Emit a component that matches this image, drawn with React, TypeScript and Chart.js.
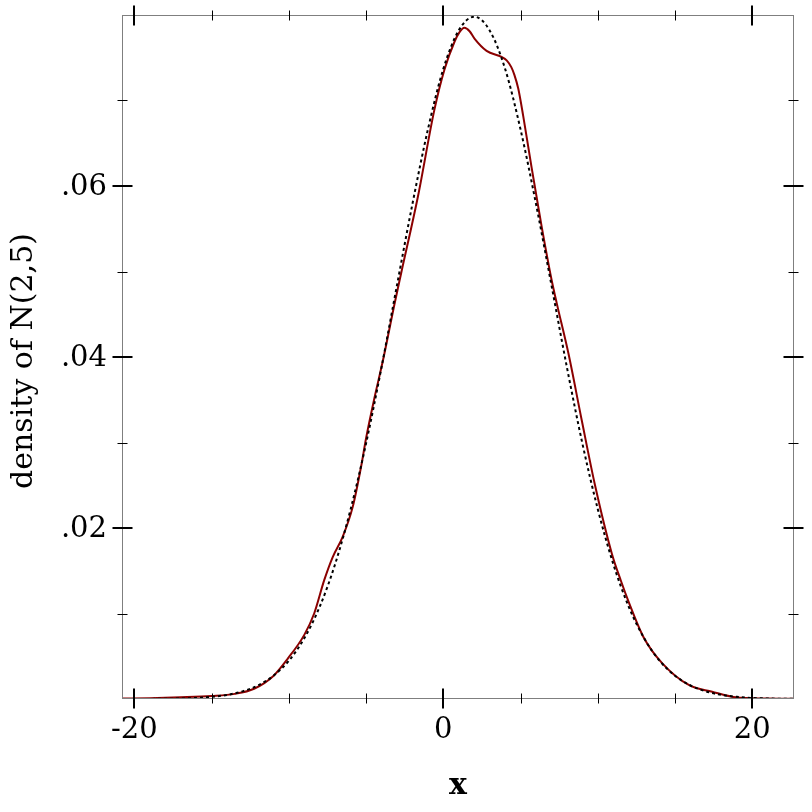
import React, { useEffect, useRef } from "react";
import { Chart, registerables } from "chart.js";

Chart.register(...registerables);

// Red curve: kernel density estimate (x, density)
const kdeX = [-20.8, -19, -17, -15, -13.5, -12.25, -11, -10.08, -9.0, -8.36, -7.71, -7.16, -6.51, -5.86, -5.32, -5.0, -4.46, -3.92, -3.16, -2.73, -1.64, -0.58, 0.07, 0.73, 1.05, 1.36, 1.7, 2.03, 2.8, 3.77, 4.1, 4.4, 4.6, 4.85, 5.17, 5.71, 6.36, 7.01, 7.34, 8.1, 8.96, 9.82, 10.91, 11.5, 11.99, 12.97, 14.16, 15.89, 17.4, 18.9, 21, 22.7];
const kdeY = [0.00005, 0.0001, 0.0002, 0.00035, 0.0006, 0.0012, 0.0027, 0.0047, 0.0075, 0.0100, 0.0139, 0.0166, 0.0190, 0.0225, 0.0272, 0.0305, 0.0352, 0.0395, 0.0462, 0.0498, 0.0588, 0.0689, 0.0736, 0.0769, 0.0780, 0.0785, 0.0781, 0.0772, 0.0758, 0.0751, 0.0747, 0.0739, 0.0730, 0.0714, 0.0682, 0.0622, 0.0553, 0.0490, 0.0463, 0.0404, 0.0326, 0.0250, 0.0170, 0.0138, 0.0114, 0.0072, 0.0042, 0.00164, 0.00085, 0.0002, 0.00005, 0.00002];

// Dotted curve: density of N(2,5)
const pdfX = [-20.8, -20, -19, -18, -17, -16, -15, -14, -13, -12, -11, -10, -9, -8, -7, -6, -5, -4, -3, -2, -1, 0, 1, 2, 3, 4, 5, 6, 7, 8, 9, 10, 11, 12, 13, 14, 15, 16, 17, 18, 19, 20, 21, 22, 22.7];
const pdfY = [0.000003, 0.000005, 0.000012, 0.000027, 0.000058, 0.00012, 0.00025, 0.00048, 0.00089, 0.00158, 0.00272, 0.00448, 0.0071, 0.0108, 0.0158, 0.0222, 0.0299, 0.0388, 0.0484, 0.0579, 0.0666, 0.0737, 0.0782, 0.0798, 0.0782, 0.0737, 0.0666, 0.0579, 0.0484, 0.0388, 0.0299, 0.0222, 0.0158, 0.0108, 0.0071, 0.00448, 0.00272, 0.00158, 0.00089, 0.00048, 0.00025, 0.00012, 0.000058, 0.000027, 0.000015];

const xMajorTicks = [-20, 0, 20];
const xMajorLabels = ["-20", "0", "20"];
const xMinorTicks = [-15, -10, -5, 5, 10, 15];
const yMajorTicks = [0.02, 0.04, 0.06];
const yMajorLabels = [".02", ".04", ".06"];
const yMinorTicks = [0.01, 0.03, 0.05, 0.07];

const xTitle = "x";
const yTitle = "density of N(2,5)";

const FONT = "DejaVu Serif";
const FONT_SIZE = 29;
const TITLE_SIZE = 30;

const axesPlugin = {
  id: "racketAxes",
  afterDraw(chart: any) {
    const ctx = chart.ctx;
    const { left, right, top, bottom } = chart.chartArea;
    const xs = chart.scales.x;
    const ys = chart.scales.y;
    ctx.save();
    // frame
    ctx.strokeStyle = "#7f7f7f";
    ctx.lineWidth = 1;
    ctx.beginPath();
    ctx.moveTo(left + 0.5, top);
    ctx.lineTo(left + 0.5, bottom);
    ctx.moveTo(right - 0.5, top);
    ctx.lineTo(right - 0.5, bottom);
    ctx.moveTo(left, top + 0.5);
    ctx.lineTo(right, top + 0.5);
    ctx.moveTo(left, bottom - 0.5);
    ctx.lineTo(right, bottom - 0.5);
    ctx.stroke();

    ctx.strokeStyle = "#000";
    const vtick = (px: number, half: number, w: number) => {
      ctx.lineWidth = w;
      ctx.beginPath();
      ctx.moveTo(px, top + 0.5 - half);
      ctx.lineTo(px, top + 0.5 + half);
      ctx.moveTo(px, bottom - 0.5 - half);
      ctx.lineTo(px, bottom - 0.5 + half);
      ctx.stroke();
    };
    const htick = (py: number, half: number, w: number) => {
      ctx.lineWidth = w;
      ctx.beginPath();
      ctx.moveTo(left + 0.5 - half, py);
      ctx.lineTo(left + 0.5 + half, py);
      ctx.moveTo(right - 0.5 - half, py);
      ctx.lineTo(right - 0.5 + half, py);
      ctx.stroke();
    };
    xMajorTicks.forEach((v) => vtick(Math.round(xs.getPixelForValue(v)), 10, 2));
    xMinorTicks.forEach((v) => vtick(Math.round(xs.getPixelForValue(v)) + 0.5, 5, 1));
    yMajorTicks.forEach((v) => htick(Math.round(ys.getPixelForValue(v)), 10, 2));
    yMinorTicks.forEach((v) => htick(Math.round(ys.getPixelForValue(v)) + 0.5, 5, 1));

    ctx.fillStyle = "#000";
    ctx.font = `${FONT_SIZE}px "${FONT}"`;
    ctx.textAlign = "center";
    ctx.textBaseline = "middle";
    xMajorTicks.forEach((v, i) => {
      ctx.fillText(xMajorLabels[i], xs.getPixelForValue(v), bottom + 31);
    });
    ctx.textAlign = "right";
    yMajorTicks.forEach((v, i) => {
      ctx.fillText(yMajorLabels[i], left - 15, ys.getPixelForValue(v) + 1);
    });
    // titles
    ctx.textAlign = "center";
    ctx.font = `bold ${TITLE_SIZE}px "${FONT}"`;
    ctx.fillText(xTitle, (left + right) / 2, bottom + 87);
    ctx.font = `${TITLE_SIZE}px "${FONT}"`;
    ctx.translate(24, (top + bottom) / 2 + 4);
    ctx.rotate(-Math.PI / 2);
    ctx.fillText(yTitle, 0, 0);
    ctx.restore();
  },
};

export default function App() {
  const ref = useRef<HTMLCanvasElement | null>(null);
  useEffect(() => {
    if (!ref.current) return;
    const chart = new Chart(ref.current, {
      type: "line",
      data: {
        datasets: [
          {
            label: "N(2,5)",
            data: pdfX.map((x, i) => ({ x, y: pdfY[i] })),
            borderColor: "#000",
            borderWidth: 2,
            borderDash: [3, 3],
            pointRadius: 0,
            fill: false,
            cubicInterpolationMode: "monotone",
          },
          {
            label: "kde",
            data: kdeX.map((x, i) => ({ x, y: kdeY[i] })),
            borderColor: "#8b0000",
            borderWidth: 2,
            pointRadius: 0,
            fill: false,
            cubicInterpolationMode: "monotone",
          },
        ],
      },
      options: {
        responsive: false,
        animation: false,
        layout: { padding: { left: 122, right: 18, top: 15, bottom: 113 } },
        scales: {
          x: { type: "linear", min: -20.8, max: 22.7, display: false },
          y: { type: "linear", min: 0, max: 0.08, display: false },
        },
        plugins: { legend: { display: false }, tooltip: { enabled: false } },
      },
      plugins: [axesPlugin],
    } as any);
    return () => chart.destroy();
  }, []);
  return (
    <div style={{ position: "absolute", left: 0, top: 0, width: 812, height: 812, background: "#fff" }}>
      <canvas ref={ref} width={812} height={812} style={{ display: "block" }} />
    </div>
  );
}
